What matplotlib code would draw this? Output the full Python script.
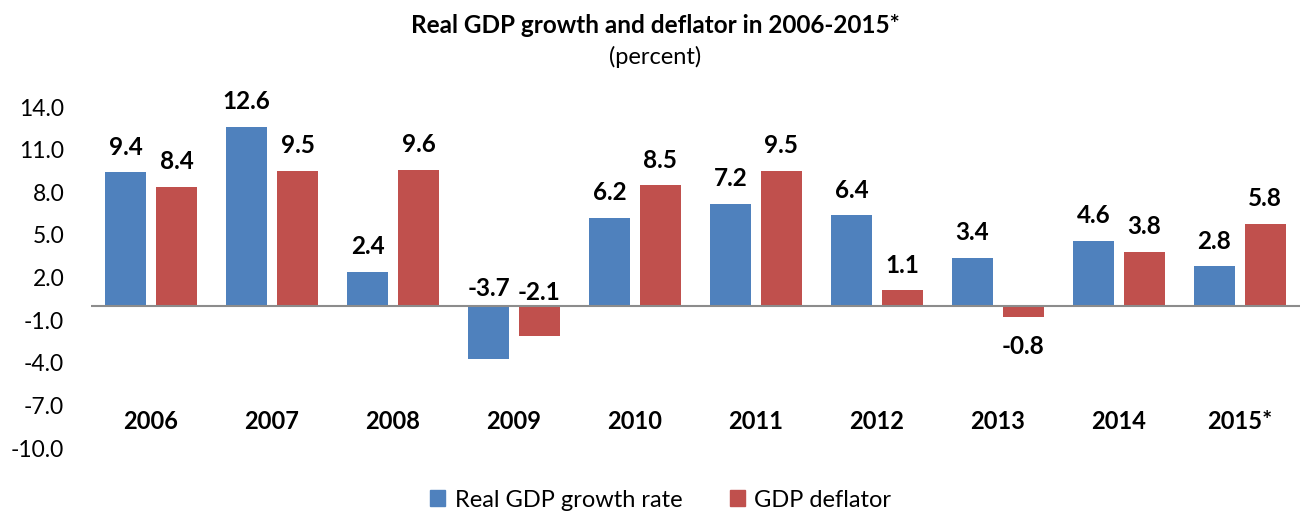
import numpy as np
import matplotlib
matplotlib.use('Agg')
import matplotlib.pyplot as plt
from matplotlib.patches import Patch

plt.rcParams['font.family'] = ['Lato', 'DejaVu Sans']

years = ['2006', '2007', '2008', '2009', '2010', '2011', '2012', '2013', '2014', '2015*']
gdp_growth = [9.4, 12.6, 2.4, -3.7, 6.2, 7.2, 6.4, 3.4, 4.6, 2.8]
deflator = [8.4, 9.5, 9.6, -2.1, 8.5, 9.5, 1.1, -0.8, 3.8, 5.8]
yticks = [-10, -7, -4, -1, 2, 5, 8, 11, 14]

blue = '#4F81BD'
red = '#C0504D'

fig = plt.figure(figsize=(13.03, 5.15), dpi=100)
ax = fig.add_axes([0.0695, 0.130, 0.9285, 0.6622])

x = np.arange(len(years))
w = 0.34
off = 0.21
b1 = ax.bar(x - off, gdp_growth, w, color=blue, zorder=2)
b2 = ax.bar(x + off, deflator, w, color=red, zorder=2)

ax.set_xlim(-0.5, len(years) - 0.5)
ax.set_ylim(-10, 14)
ax.set_yticks(yticks)
ax.set_yticklabels(['%.1f' % t for t in yticks], fontsize=16.5)
ax.tick_params(axis='y', length=0, pad=19)
ax.set_xticks([])
for s in ax.spines.values():
    s.set_visible(False)
ax.axhline(0, color='#8c8c8c', lw=1.5, zorder=3)

lab_fs = 17.5

def label(xpos, v):
    if v >= 0:
        ax.annotate('%.1f' % v, (xpos, v), xytext=(0, 25), textcoords='offset pixels',
                    ha='center', va='center', fontsize=lab_fs, fontweight='bold')
    elif v < -1.5:
        ax.annotate('%.1f' % v, (xpos, 0), xytext=(0, 17 if v < -3 else 13), textcoords='offset pixels',
                    ha='center', va='center', fontsize=lab_fs, fontweight='bold')
    else:
        ax.annotate('%.1f' % v, (xpos, v), xytext=(0, -29), textcoords='offset pixels',
                    ha='center', va='center', fontsize=lab_fs, fontweight='bold')

for i in range(len(years)):
    label(x[i] - off, gdp_growth[i])
    label(x[i] + off, deflator[i])
    ax.text(x[i], -8.1, years[i], ha='center', va='center', fontsize=17, fontweight='bold')

fig.text(0.503, 0.951, 'Real GDP growth and deflator in 2006-2015*', ha='center', va='center',
         fontsize=17.5, fontweight='bold')
fig.text(0.503, 0.889, '(percent)', ha='center', va='center', fontsize=17)

handles = [Patch(color=blue), Patch(color=red)]
fig.legend(handles, ['Real GDP growth rate', 'GDP deflator'], loc='center', bbox_to_anchor=(0.507, 0.029),
           ncol=2, frameon=False, fontsize=17, handlelength=0.65, handleheight=0.65,
           handletextpad=0.4, columnspacing=2.0)

fig.savefig('out.png', dpi=100)
plt.close(fig)
